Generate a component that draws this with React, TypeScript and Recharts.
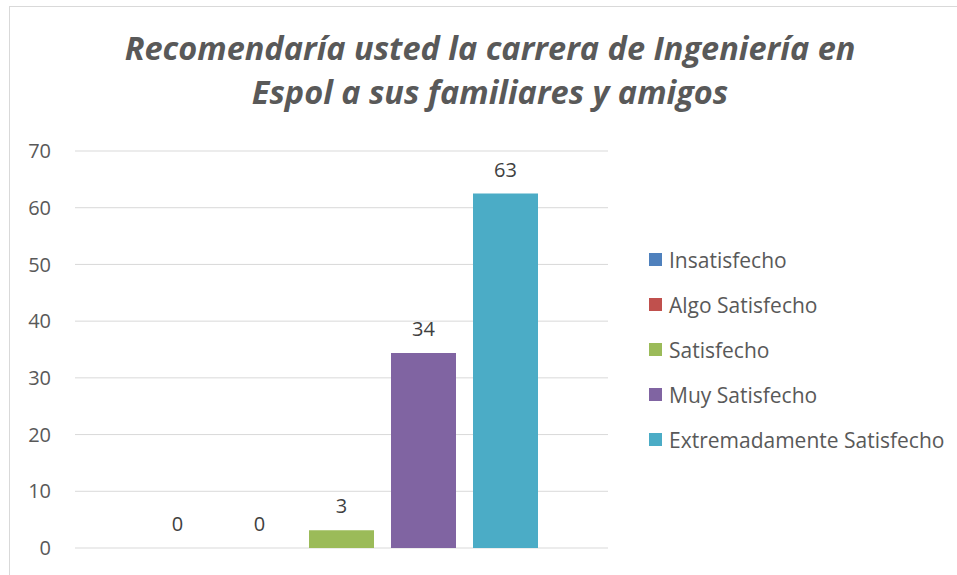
import React from "react";
import { BarChart, Bar, XAxis, YAxis, CartesianGrid, LabelList, Cell } from "recharts";

const titleLines = ["Recomendaría usted la carrera de Ingeniería en", "Espol a sus familiares y amigos"];
const seriesNames = ["Insatisfecho", "Algo Satisfecho", "Satisfecho", "Muy Satisfecho", "Extremadamente Satisfecho"];
const seriesKeys = ["s0", "s1", "s2", "s3", "s4"];
const seriesValues = [0, 0, 3.125, 34.375, 62.5];
const seriesColors = ["#4f81bd", "#c0504d", "#9bbb59", "#8064a2", "#4bacc6"];
const yTicks = [0, 10, 20, 30, 40, 50, 60, 70];
const category = "Respuesta";

const row: Record<string, number | string> = { name: category };
seriesKeys.forEach((k, i) => {
  row[k] = seriesValues[i];
});
const data = [row];

const FONT = "'Open Sans', sans-serif";

const renderLabel = (props: any) => {
  const { x, y, width, height, value } = props;
  if (x == null || y == null) return null;
  const top = Number(height) < 0 ? Number(y) + Number(height) : Number(y);
  const isZero = Number(value) === 0;
  return (
    <text
      x={Number(x) + Number(width) / 2}
      y={(isZero ? top + Math.abs(Number(height)) : top) - 17}
      textAnchor="middle"
      fill="#404040"
      fontSize={20}
      fontFamily={FONT}
    >
      {Math.round(Number(value)).toString()}
    </text>
  );
};

export default function App() {
  return (
    <div style={{ position: "fixed", left: 0, top: 0, width: 957, height: 575, background: "#fff", fontFamily: FONT }}>
      <div style={{ position: "absolute", left: 9, top: 6, width: 948, height: 1, background: "#d9d9d9" }} />
      <div style={{ position: "absolute", left: 9, top: 6, width: 1, height: 569, background: "#d9d9d9" }} />
      <div
        style={{
          position: "absolute",
          left: 0,
          top: 26,
          width: 980,
          textAlign: "center",
          fontSize: 32.5,
          fontWeight: 700,
          fontStyle: "italic",
          color: "#595959",
          lineHeight: "44px",
        }}
      >
        {titleLines.map((t) => (
          <div key={t}>{t}</div>
        ))}
      </div>
      <div style={{ position: "absolute", left: 0, top: 0 }}>
        <BarChart
          width={957}
          height={575}
          data={data}
          margin={{ top: 151, right: 349, bottom: 27, left: 15 }}
          barSize={65}
          barGap={17}
        >
          <CartesianGrid vertical={false} stroke="#d9d9d9" strokeWidth={1} />
          <XAxis dataKey="name" hide />
          <YAxis
            width={60}
            domain={[0, 70]}
            ticks={yTicks}
            axisLine={false}
            tickLine={false}
            tickMargin={18}
            tick={{ fill: "#595959", fontSize: 20, fontFamily: FONT }}
          />
          {seriesKeys.map((k, i) => (
            <Bar
              key={k}
              dataKey={k}
              name={seriesNames[i]}
              fill={seriesColors[i]}
              minPointSize={1}
              isAnimationActive={false}
            >
              {data.map((d, j) => (
                <Cell key={j} fill={Number(d[k]) === 0 ? "transparent" : seriesColors[i]} />
              ))}
              <LabelList dataKey={k} position="top" content={renderLabel} />
            </Bar>
          ))}
        </BarChart>
      </div>
      <div style={{ position: "absolute", left: 649, top: 237 }}>
        {seriesNames.map((n, i) => (
          <div key={n} style={{ display: "flex", alignItems: "center", height: 45 }}>
            <div style={{ width: 13, height: 13, background: seriesColors[i], marginRight: 7 }} />
            <span style={{ fontSize: 21, color: "#595959" }}>{n}</span>
          </div>
        ))}
      </div>
    </div>
  );
}
